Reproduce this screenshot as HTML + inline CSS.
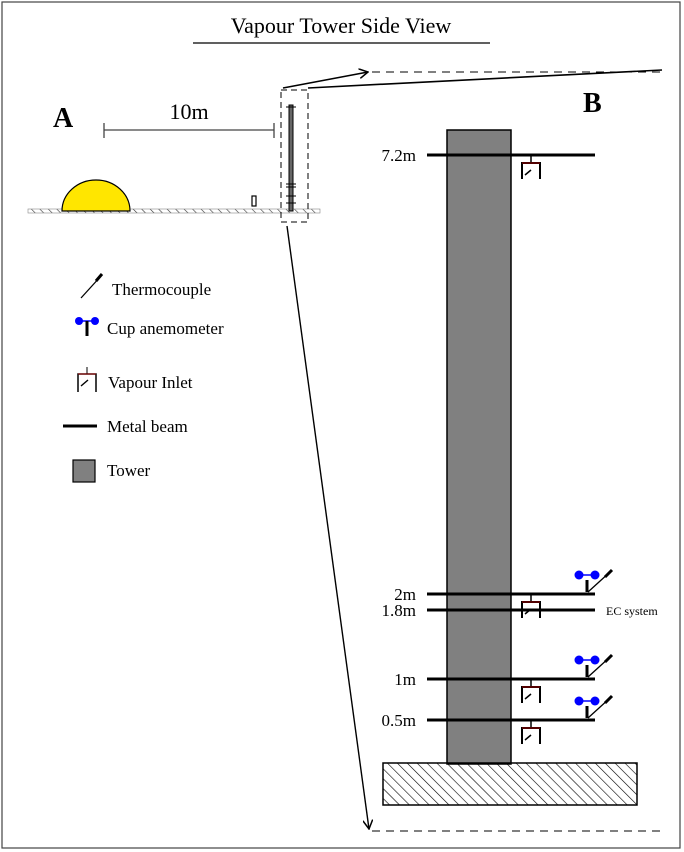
<!DOCTYPE html>
<html><head><meta charset="utf-8"><style>
html,body{margin:0;padding:0;background:#fff}
svg{display:block;font-family:"Liberation Serif",serif}
</style></head><body>
<svg width="684" height="852" viewBox="0 0 684 852">
<defs>
<pattern id="hatch" patternUnits="userSpaceOnUse" width="7" height="7" patternTransform="rotate(-45)">
<line x1="0" y1="0" x2="0" y2="7" stroke="#000" stroke-width="1.2"/></pattern>
<pattern id="ghatch" patternUnits="userSpaceOnUse" width="6" height="6" patternTransform="rotate(-45)">
<line x1="0" y1="0" x2="0" y2="6" stroke="#333" stroke-width="1.2"/></pattern>
<marker id="arr" markerWidth="10" markerHeight="10" refX="9" refY="5" orient="auto" markerUnits="userSpaceOnUse">
<path d="M0,0 L9,5 L0,10" fill="none" stroke="#000" stroke-width="1.5"/></marker>
</defs>
<rect x="2" y="2" width="678" height="846" fill="#fff" stroke="#444" stroke-width="1.2"/>
<text x="341" y="33" font-size="22" text-anchor="middle">Vapour Tower Side View</text>
<line x1="193" y1="43" x2="490" y2="43" stroke="#000" stroke-width="1.2"/>

<g>
<text x="53" y="127" font-size="28" font-weight="bold">A</text>
<text x="189" y="119" font-size="22" text-anchor="middle">10m</text>
<line x1="104" y1="130" x2="274" y2="130" stroke="#444" stroke-width="1.3"/>
<line x1="104" y1="123" x2="104" y2="138" stroke="#444" stroke-width="1.3"/>
<line x1="274" y1="123" x2="274" y2="138" stroke="#444" stroke-width="1.3"/>
<rect x="28" y="209" width="292" height="4" fill="url(#ghatch)" stroke="#888" stroke-width="0.6"/>
<path d="M62,211 A34,31 0 0 1 130,211 Z" fill="#ffe600" stroke="#000" stroke-width="1.2"/>
<rect x="252" y="196" width="4" height="10" fill="#fff" stroke="#000" stroke-width="1.2"/>
<rect x="289" y="105" width="4" height="106" fill="#666" stroke="#000" stroke-width="1"/>
<g stroke="#000" stroke-width="1">
<line x1="286" y1="184" x2="296" y2="184"/><line x1="286" y1="187" x2="296" y2="187"/>
<line x1="286" y1="196" x2="296" y2="196"/><line x1="286" y1="203" x2="296" y2="203"/>
<line x1="286" y1="107" x2="296" y2="107"/></g>
<rect x="281" y="90" width="27" height="132" fill="none" stroke="#000" stroke-width="1" stroke-dasharray="6,4"/>
</g>

<line x1="283" y1="88" x2="368" y2="72" stroke="#000" stroke-width="1.6" marker-end="url(#arr)"/>
<line x1="308" y1="88" x2="662" y2="70" stroke="#000" stroke-width="1.6"/>
<line x1="287" y1="226" x2="369" y2="829" stroke="#000" stroke-width="1.4" marker-end="url(#arr)"/>
<line x1="372" y1="72" x2="662" y2="72" stroke="#000" stroke-width="1" stroke-dasharray="8,6"/>
<line x1="372" y1="831" x2="662" y2="831" stroke="#000" stroke-width="1" stroke-dasharray="8,6"/>

<g>
<text x="583" y="112" font-size="28" font-weight="bold">B</text>
<rect x="447" y="130" width="64" height="634" fill="#808080" stroke="#000" stroke-width="1.5"/>
<rect x="383" y="763" width="254" height="42" fill="url(#hatch)" stroke="#000" stroke-width="1.5"/>
<g id="beams"></g>
<text x="606" y="615" font-size="12">EC system</text>
</g>

<g font-size="17">
<line x1="81" y1="298" x2="101" y2="276" stroke="#000" stroke-width="1.3"/>
<line x1="96" y1="281" x2="102" y2="274" stroke="#000" stroke-width="3"/>
<text x="112" y="295">Thermocouple</text>
<circle cx="79" cy="321" r="4" fill="#00f"/><circle cx="95" cy="321" r="4" fill="#00f"/>
<line x1="79" y1="321" x2="95" y2="321" stroke="#00f" stroke-width="1.5"/>
<line x1="87" y1="321" x2="87" y2="336" stroke="#000" stroke-width="3"/>
<text x="107" y="334">Cup anemometer</text>
<line x1="87" y1="367" x2="87" y2="374" stroke="#000" stroke-width="1"/>
<path d="M78,392 V374 H96 V392" fill="none" stroke="#000" stroke-width="1.5"/>
<line x1="78" y1="374" x2="96" y2="374" stroke="#c00" stroke-width="0.8"/>
<line x1="81" y1="386" x2="88" y2="380" stroke="#000" stroke-width="1.4"/>
<text x="108" y="388">Vapour Inlet</text>
<line x1="63" y1="426" x2="97" y2="426" stroke="#000" stroke-width="3"/>
<text x="107" y="432">Metal beam</text>
<rect x="73" y="460" width="22" height="22" fill="#808080" stroke="#000" stroke-width="1.2"/>
<text x="107" y="476">Tower</text>
</g>

<script>
var heightLabels = ["7.2m", "2m", "1.8m", "1m", "0.5m"];
var beamY = [155, 594, 610, 679, 720];
var hasInlet = [true, true, false, true, true];
var hasAnemometer = [false, true, false, true, true];
var NS = "http://www.w3.org/2000/svg";
var g = document.getElementById("beams");
function mk(tag, attrs) { var e = document.createElementNS(NS, tag); for (var k in attrs) e.setAttribute(k, attrs[k]); g.appendChild(e); return e; }
for (var i = 0; i < heightLabels.length; i++) {
  var y = beamY[i];
  var b = mk("line", {x1: 427, y1: y, x2: 595, y2: y, stroke: "#000", "stroke-width": 3});
  
  
  var t = mk("text", {x: 416, y: y + 6, "font-size": 17, "text-anchor": "end"});
  t.textContent = heightLabels[i];
  
  
  if (hasInlet[i]) {
    mk("line", {x1: 531, y1: y, x2: 531, y2: y + 8, stroke: "#000", "stroke-width": 1.5});
    var p = mk("path", {d: "M522," + (y + 24) + " V" + (y + 8) + " H540 V" + (y + 24), fill: "none", stroke: "#000", "stroke-width": 2});
    
    
    mk("line", {x1: 522, y1: y + 8, x2: 540, y2: y + 8, stroke: "#d00", "stroke-width": 0.8});
    mk("line", {x1: 525, y1: y + 20, x2: 531, y2: y + 15, stroke: "#000", "stroke-width": 1.5});
  }
  if (hasAnemometer[i]) {
    mk("line", {x1: 587, y1: y - 2, x2: 587, y2: y - 14, stroke: "#000", "stroke-width": 3});
    mk("line", {x1: 579, y1: y - 19, x2: 595, y2: y - 19, stroke: "#00f", "stroke-width": 1.5});
    var c1 = mk("circle", {cx: 579, cy: y - 19, r: 4.5, fill: "#00f"});
    
    
    mk("circle", {cx: 595, cy: y - 19, r: 4.5, fill: "#00f"});
    mk("line", {x1: 588, y1: y - 2, x2: 610, y2: y - 22, stroke: "#000", "stroke-width": 1.3});
    var th = mk("line", {x1: 605, y1: y - 17, x2: 612, y2: y - 24, stroke: "#000", "stroke-width": 3});
    
    
  }
}
</script>
</svg>
</body></html>
